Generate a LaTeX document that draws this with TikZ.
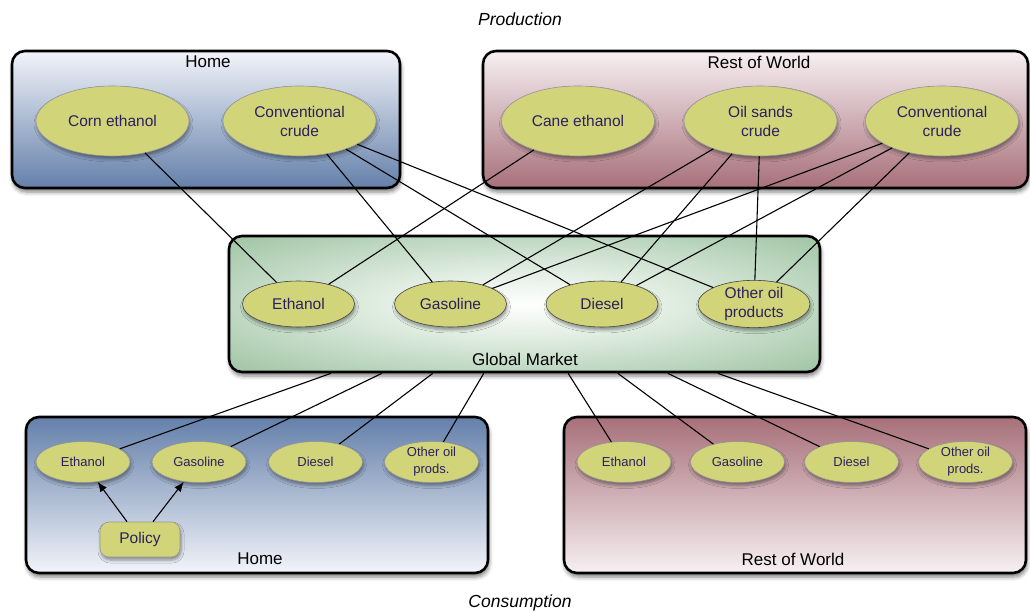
\documentclass[tikz,border=0pt]{standalone}
\usepackage{fontspec}
\setmainfont{Liberation Sans}
\usetikzlibrary{shapes.geometric,shadows.blur,arrows.meta}
\definecolor{ellfill}{RGB}{210,212,122}
\definecolor{ellline}{RGB}{150,150,150}
\definecolor{ellline2}{RGB}{70,70,70}
\definecolor{elltext}{RGB}{42,32,96}
\definecolor{homeblue}{RGB}{100,128,170}
\definecolor{homelight}{RGB}{242,244,249}
\definecolor{rowred}{RGB}{168,112,122}
\definecolor{rowlight}{RGB}{246,240,242}
\definecolor{gmA}{RGB}{226,238,227}
\definecolor{gmB}{RGB}{152,192,157}
\definecolor{gmgreen}{RGB}{120,166,125}
\definecolor{gmdark}{RGB}{96,146,102}
\pgfdeclareradialshading{gmshade}{\pgfpoint{0bp}{0bp}}{color(0bp)=(white); color(12bp)=(gmA); color(38bp)=(gmB); color(50bp)=(gmgreen); color(72bp)=(gmdark)}
\begin{document}
\begin{tikzpicture}[x=1pt,y=-1pt,
  region/.style={draw=black, line width=2.6pt, rounded corners=13pt, inner sep=0pt,
    blur shadow={shadow xshift=1pt, shadow yshift=-4pt, shadow blur radius=4pt, shadow opacity=50}},
  bigell/.style={ellipse, draw=ellline, line width=0.6pt, fill=ellfill, text=elltext, inner sep=0pt,
    minimum width=153pt, minimum height=70pt, align=center, font=\fontsize{15.5}{19}\selectfont,
    blur shadow={shadow xshift=1pt, shadow yshift=-3pt, shadow blur radius=3pt, shadow opacity=40}},
  midell/.style={bigell, draw=ellline2, minimum width=112pt, minimum height=46pt},
  smallell/.style={bigell, minimum width=94pt, minimum height=41pt, font=\fontsize{13}{17}\selectfont},
  regtitle/.style={font=\fontsize{17}{20}\selectfont, inner sep=0pt},
  sectitle/.style={font=\fontsize{17.5}{20}\selectfont\itshape, inner sep=0pt},
  link/.style={draw=black, line width=1.1pt},
  arr/.style={link, -{Latex[length=10pt,width=8pt]}}
]
\useasboundingbox (0,0) rectangle (1030,612);

% section titles
\node[sectitle] (prod) at (520,19) {Production};
\node[sectitle] (cons) at (520,603) {Consumption};

% production regions
\node[region, top color=homelight, bottom color=homeblue, minimum width=388pt, minimum height=137pt] (hprod) at (206,119.5) {};
\node[regtitle] (hprodt) at (208,62) {Home};
\node[region, top color=rowlight, bottom color=rowred, minimum width=545pt, minimum height=137pt] (rprod) at (755.5,119.5) {};
\node[regtitle] (rprodt) at (759,62) {Rest of World};

\node[bigell] (corn) at (112.5,121) {Corn ethanol};
\node[bigell] (hcc) at (299.5,121) {Conventional\\crude};
\node[bigell] (cane) at (578,121) {Cane ethanol};
\node[bigell] (oils) at (760.5,121) {Oil sands\\crude};
\node[bigell] (rcc) at (942,121) {Conventional\\crude};

% global market
\node[region, shade, shading=gmshade, minimum width=591pt, minimum height=136pt] (gm) at (524.5,304) {};
\node[regtitle] (gmt) at (525,359) {Global Market};
\node[midell] (ge) at (298.5,304) {Ethanol};
\node[midell] (gg) at (450.5,304) {Gasoline};
\node[midell] (gd) at (602,304) {Diesel};
\node[midell] (go) at (754,304) {Other oil\\products};

% consumption regions
\node[region, top color=homeblue, bottom color=homelight, minimum width=462pt, minimum height=156pt] (hcons) at (257,495) {};
\node[regtitle] (hconst) at (260,559) {Home};
\node[region, top color=rowred, bottom color=rowlight, minimum width=462pt, minimum height=156pt] (rcons) at (795,495) {};
\node[regtitle] (rconst) at (793,559) {Rest of World};

\node[smallell] (he) at (83,462) {Ethanol};
\node[smallell] (hg) at (199,462) {Gasoline};
\node[smallell] (hd) at (315.5,462) {Diesel};
\node[smallell] (ho) at (431.5,462) {Other oil\\prods.};
\node[smallell] (re) at (624,462) {Ethanol};
\node[smallell] (rg) at (737.5,462) {Gasoline};
\node[smallell] (rd) at (851.5,462) {Diesel};
\node[smallell] (ro) at (965.5,462) {Other oil\\prods.};

\node[bigell, rectangle, rounded corners=9pt, minimum width=80pt, minimum height=35pt] (pol) at (140,539.5) {Policy};

% production links
\draw[link] (corn) -- (ge);
\draw[link] (hcc) -- (gg);
\draw[link] (hcc) -- (gd);
\draw[link] (hcc) -- (go);
\draw[link] (cane) -- (ge);
\draw[link] (oils) -- (gg);
\draw[link] (oils) -- (gd);
\draw[link] (oils) -- (go);
\draw[link] (rcc) -- (gg);
\draw[link] (rcc) -- (gd);
\draw[link] (rcc) -- (go);

% consumption links
\foreach \t in {he,hg,hd,ho,re,rg,rd,ro} \draw[link] (gm) -- (\t);

% policy
\draw[arr] ([xshift=-13pt]pol.north) -- (he);
\draw[arr] ([xshift=13pt]pol.north) -- (hg);
\end{tikzpicture}
\end{document}
